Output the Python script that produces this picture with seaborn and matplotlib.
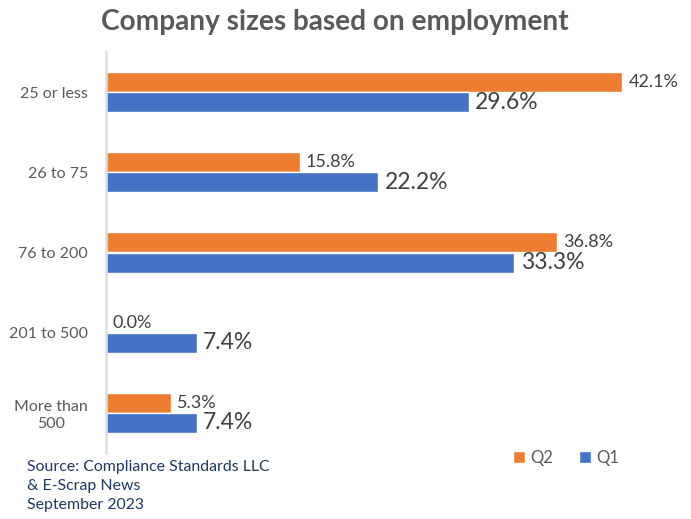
import matplotlib
matplotlib.use("Agg")
import matplotlib.pyplot as plt
from matplotlib.patches import Patch
import seaborn as sns
import pandas as pd

# Survey results: share of companies in each employment size band
sizes = ["25 or less", "26 to 75", "76 to 200", "201 to 500", "More than\n500"]
q2_values = [42.1, 15.8, 36.8, 0.0, 5.3]
q1_values = [29.6, 22.2, 33.3, 7.4, 7.4]
quarters = ["Q2", "Q1"]
colors = {"Q2": "#ED7D31", "Q1": "#4472C4"}

df = pd.DataFrame({
    "size": sizes * 2,
    "value": q2_values + q1_values,
    "quarter": ["Q2"] * len(sizes) + ["Q1"] * len(sizes),
})

sns.set_style("white")
plt.rcParams["font.family"] = ["Lato", "DejaVu Sans"]

fig = plt.figure(figsize=(6.91, 5.19), dpi=100)
ax = fig.add_axes([106 / 691, 66 / 519, 564 / 691, 401 / 519])

sns.barplot(data=df, y="size", x="value", hue="quarter", hue_order=quarters,
            order=sizes, palette=colors, orient="h", width=0.5, gap=0,
            saturation=1, legend=False, ax=ax)

ax.set_xlim(0, 46)
ax.set_xlabel("")
ax.set_ylabel("")
ax.xaxis.set_visible(False)
for side in ("top", "right", "bottom"):
    ax.spines[side].set_visible(False)
ax.spines["left"].set_color("#DDDDDD")
ax.spines["left"].set_linewidth(1.8)
ax.tick_params(axis="y", length=0, pad=13, labelsize=11.5, labelcolor="#595959")
for lbl in ax.get_yticklabels():
    lbl.set_multialignment("center")

# Value labels: Q2 smaller, Q1 larger
label_sizes = {"Q2": 13, "Q1": 16.5}
for container, q in zip(ax.containers, quarters):
    ax.bar_label(container, fmt="%.1f%%", padding=4.5,
                 fontsize=label_sizes[q], color="#404040")

fig.text(0.485, 0.958, "Company sizes based on employment", ha="center",
         va="center", fontsize=20.2, fontweight="bold", color="#595959")

handles = [Patch(facecolor=colors[q], label=q) for q in quarters]
fig.legend(handles=handles, loc="center", bbox_to_anchor=(566 / 691, 1 - 458 / 519),
           ncol=2, frameon=False, fontsize=12, labelcolor="#595959",
           handlelength=0.7, handleheight=0.7, handletextpad=0.3,
           columnspacing=1.6)

fig.text(27 / 691, 1 - 460 / 519, "Source: Compliance Standards LLC\n& E-Scrap News\nSeptember 2023",
         ha="left", va="top", fontsize=11.4, color="#1F3864",
         linespacing=1.45)

fig.savefig("out.png", dpi=100)
